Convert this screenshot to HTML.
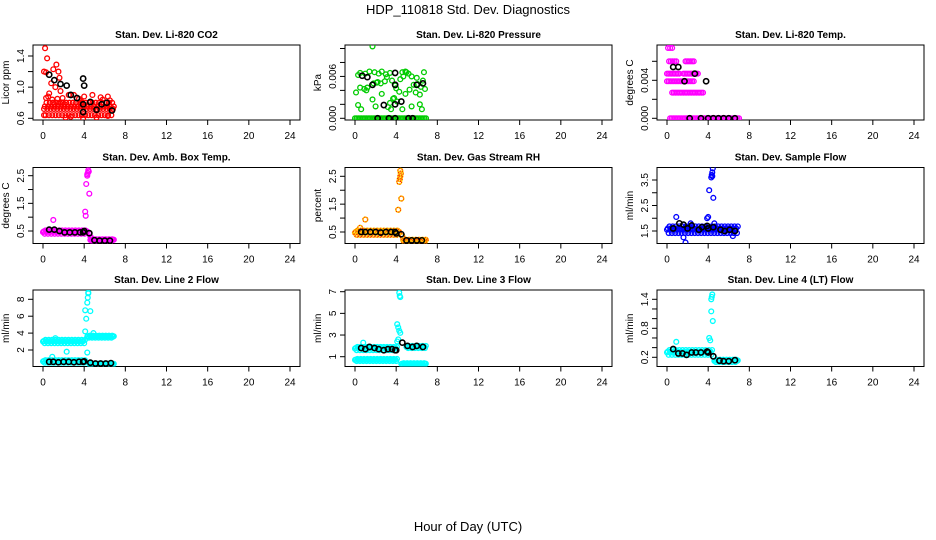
<!DOCTYPE html>
<html><head><meta charset="utf-8"><style>
body{margin:0;background:#fff}
svg{display:block;font-family:"Liberation Sans",sans-serif}
</style></head><body>
<svg id="chart" width="936" height="540" viewBox="0 0 936 540">
<text x="468" y="14" text-anchor="middle" font-size="13">HDP_110818  Std. Dev. Diagnostics</text>
<text x="468" y="531" text-anchor="middle" font-size="13">Hour of Day (UTC)</text>
</svg>
<script>
const xTicks=[0,4,8,12,16,20,24];
// Panel 1 CO2
const co2Pts=[[0.2,1.5],[0.4,1.37],[0.1,1.2],[0.3,1.19],[1.3,1.29],[1.5,1.2],[1.0,1.23],[1.6,1.12],[0.8,1.05],[1.2,1.0],[1.7,0.95],[0.6,0.92],[0.3,0.86],[0.5,0.88],[0.9,0.84],[1.4,0.85],[1.8,0.8],[2.1,0.78],[2.5,0.9],[3.0,0.9],[3.5,0.85],[4.0,0.88],[4.8,0.9],[5.6,0.87],[6.3,0.88],[6.5,0.83],[0.1,0.64],[2.2,0.61],[5.2,0.61],[6.3,0.63],[1.9,0.86],[3.7,0.82],[1.1,0.78],[5.8,0.84],[6.8,0.72],[2.7,0.62],[3.9,0.6]];
const co2Bands=[[0.1,6.8,0.64,0.8]];
const co2Black=[[0.6,1.16],[1.1,1.09],[1.7,1.04],[2.3,1.02],[3.9,1.11],[4.0,1.02],[2.7,0.9],[3.3,0.86],[4.6,0.81],[3.9,0.78],[6.2,0.8],[5.7,0.78],[5.2,0.71],[6.7,0.7],[3.9,0.68]];
// Panel 2 pressure (units 0.001 kPa)
const presPts=[[1.7,10.3],[0.3,6.2],[0.5,6.5],[1.0,6.4],[1.4,6.7],[1.9,6.6],[2.3,6.4],[2.6,6.7],[3.0,6.3],[3.4,6.5],[4.9,6.7],[5.2,6.4],[5.5,6.0],[6.0,5.8],[6.7,6.6],[6.6,5.4],[0.5,4.4],[0.9,4.2],[1.2,4.4],[1.8,5.0],[2.2,5.2],[2.5,5.0],[2.9,5.3],[3.6,5.4],[4.4,5.6],[5.7,4.8],[6.1,4.9],[6.4,4.5],[6.8,4.2],[0.1,3.7],[2.6,3.5],[4.0,4.3],[4.3,3.8],[4.9,3.5],[5.3,4.1],[5.9,3.7],[6.3,3.4],[1.7,2.7],[3.4,2.2],[3.7,2.8],[4.1,2.4],[0.3,1.9],[0.6,1.3],[2.0,1.7],[3.2,1.6],[3.5,1.3],[4.6,1.3],[5.5,1.7],[6.3,2.0],[6.5,1.3],[3.8,2.9],[1.1,4.0],[3.9,4.7],[4.7,6.0],[2.1,5.1],[4.6,6.6],[5.0,6.6],[3.1,5.9]];
const presBands=[[0,6.9,0,0]];
const presBlack=[[0.7,6.1],[1.2,5.9],[3.9,6.5],[1.7,4.8],[3.9,4.8],[6.0,4.8],[6.6,5.0],[4.5,2.4],[2.8,1.9],[3.9,2.0],[2.2,0],[3.3,0],[3.9,0],[5.2,0],[5.6,0]];
// Panel 3 temp (units 0.001 C)
const tempPts=[[0.1,7.4],[0.3,7.4],[0.5,7.4]];
const tempBands=[[0.2,0.9,6.0,6.0],[1.8,2.6,6.0,6.0],[0,1.2,4.7,4.7],[1.6,3.0,4.7,4.7],[0,2.6,3.9,3.9],[0.5,3.5,2.7,2.7],[0.3,7.0,0,0]];
const tempBlack=[[0.6,5.4],[1.1,5.4],[2.7,4.7],[1.7,3.9],[3.8,3.9],[2.2,0],[3.3,0],[4.0,0],[4.5,0],[5.0,0],[5.5,0],[6.0,0],[6.6,0]];
// Panel 4 amb box temp
const ambPts=[[1.0,0.9],[4.1,1.2],[4.15,1.05],[4.2,2.2],[4.3,2.5],[4.35,2.6],[4.4,2.7],[4.45,2.65],[4.3,2.55],[4.5,1.85],[4.5,0.4],[4.6,0.3],[4.7,0.25]];
const ambBands=[[0,4.2,0.4,0.52],[4.6,6.8,0.15,0.2]];
const ambBlack=[[0.6,0.55],[1.1,0.55],[1.6,0.5],[2.1,0.45],[2.6,0.45],[3.1,0.45],[3.6,0.45],[3.9,0.45],[4.0,0.5],[4.5,0.42],[5.0,0.17],[5.5,0.15],[6.0,0.15],[6.5,0.15]];
// Panel 5 RH
const rhPts=[[1.0,0.95],[4.2,1.3],[4.5,1.7],[4.3,2.3],[4.35,2.4],[4.4,2.5],[4.45,2.6],[4.4,2.7],[0.5,0.65],[4.6,0.35]];
const rhBands=[[0,4.2,0.4,0.55],[4.7,6.8,0.17,0.22]];
const rhBlack=[[0.6,0.5],[1.0,0.5],[1.5,0.5],[2.0,0.5],[2.5,0.48],[3.0,0.5],[3.5,0.5],[3.9,0.5],[4.0,0.45],[4.5,0.42],[5.0,0.2],[5.5,0.2],[6.0,0.2],[6.5,0.2]];
// Panel 6 sample flow
const sfPts=[[0.9,2.05],[1.8,1.05],[3.9,2.0],[4.0,2.05],[4.1,3.1],[4.3,3.6],[4.35,3.7],[4.4,3.8],[4.45,3.95],[4.4,3.65],[4.5,2.8],[1.6,1.25],[6.4,1.3],[4.6,1.8],[2.3,1.8]];
const sfBands=[[0,6.8,1.42,1.68]];
const sfBlack=[[0.6,1.6],[1.2,1.8],[1.6,1.75],[2.0,1.6],[2.4,1.72],[3.1,1.55],[3.4,1.65],[3.9,1.7],[4.0,1.6],[4.5,1.65],[5.2,1.55],[5.6,1.5],[6.1,1.55],[6.6,1.5]];
// Panel 7 line 2 flow
const l2Pts=[[4.1,4.2],[4.2,5.7],[4.1,6.7],[4.3,7.6],[4.35,8.2],[4.4,8.7],[4.4,8.8],[4.6,6.6],[4.3,1.7],[2.3,1.8],[0.9,1.2],[1.2,3.4],[4.9,4.0]];
const l2Bands=[[0,4.0,2.8,3.2],[4.3,6.8,3.45,3.7],[0,4.0,0.5,0.8],[4.5,6.8,0.3,0.4]];
const l2Black=[[0.6,0.6],[1.0,0.6],[1.5,0.55],[2.0,0.6],[2.5,0.6],[3.0,0.55],[3.5,0.6],[3.9,0.6],[4.0,0.65],[4.6,0.5],[5.1,0.4],[5.6,0.4],[6.1,0.4],[6.6,0.45]];
// Panel 8 line 3 flow
const l3Pts=[[4.1,4.0],[4.2,3.7],[4.3,3.4],[4.4,3.2],[4.2,2.6],[4.1,2.4],[4.3,6.9],[4.35,6.6],[4.4,6.5],[0.8,2.3]];
const l3Bands=[[0,4.0,1.6,1.9],[0,4.0,0.6,0.8],[4.5,6.8,0.25,0.4],[5.0,6.8,1.8,2.0]];
const l3Black=[[0.6,1.8],[1.0,1.7],[1.4,1.9],[1.9,1.8],[2.3,1.7],[2.8,1.6],[3.2,1.7],[3.6,1.7],[3.9,1.6],[4.0,1.6],[4.6,2.3],[5.1,2.0],[5.6,1.9],[6.0,2.0],[6.6,1.9]];
// Panel 9 line 4 flow
const l4Pts=[[4.1,0.6],[4.2,0.55],[4.3,1.15],[4.3,1.4],[4.35,1.45],[4.4,1.5],[4.45,0.95],[0.9,0.52]];
const l4Bands=[[0,4.3,0.25,0.35],[4.6,6.8,0.1,0.15]];
const l4Black=[[0.6,0.37],[1.1,0.28],[1.5,0.28],[1.9,0.25],[2.4,0.3],[2.8,0.3],[3.3,0.3],[3.9,0.32],[4.0,0.3],[4.5,0.22],[5.1,0.13],[5.5,0.12],[6.0,0.12],[6.6,0.14]];

const NS='http://www.w3.org/2000/svg';
const svg=document.getElementById('chart');
function mk(tag,attrs,parent){const e=document.createElementNS(NS,tag);for(const k in attrs)e.setAttribute(k,attrs[k]);(parent||svg).appendChild(e);return e;}

const colL=[33,345,657];
const rowT=[45,167.5,290], rowB=[120,243.5,366.5];
const panels=[
 {name:'co2',title:'Stan. Dev. Li-820 CO2',yl:'Licor ppm',c:0,r:0,v0:0.6,p0:118.3,v1:1.4,p1:56,ticks:[0.6,0.8,1.0,1.2,1.4],labs:['0.6','1.0','1.4'],labv:[0.6,1.0,1.4],col:'#ff0000',pts:co2Pts,bands:co2Bands,blk:co2Black},
 {name:'pressure',title:'Stan. Dev. Li-820 Pressure',yl:'kPa',c:1,r:0,v0:0,p0:118.3,v1:10,p1:48.5,ticks:[0,2,4,6,8,10],labs:['0.000','0.006'],labv:[0,6],col:'#00cc00',pts:presPts,bands:presBands,blk:presBlack},
 {name:'temp',title:'Stan. Dev. Li-820 Temp.',yl:'degrees C',c:2,r:0,v0:0,p0:118.3,v1:6,p1:61.3,ticks:[0,2,4,6],labs:['0.000','0.004'],labv:[0,4],col:'#ff00ff',pts:tempPts,bands:tempBands,blk:tempBlack},
 {name:'amb-temp',title:'Stan. Dev. Amb. Box Temp.',yl:'degrees C',c:0,r:1,v0:0.5,p0:231,v1:2.5,p1:175.7,ticks:[0.5,1,1.5,2,2.5],labs:['0.5','1.5','2.5'],labv:[0.5,1.5,2.5],col:'#ff00ff',pts:ambPts,bands:ambBands,blk:ambBlack},
 {name:'rh',title:'Stan. Dev. Gas Stream RH',yl:'percent',c:1,r:1,v0:0.5,p0:232,v1:2.5,p1:176.3,ticks:[0.5,1,1.5,2,2.5],labs:['0.5','1.5','2.5'],labv:[0.5,1.5,2.5],col:'#ff0000',fill:'#ffcc00',pts:rhPts,bands:rhBands,blk:rhBlack},
 {name:'sample-flow',title:'Stan. Dev. Sample Flow',yl:'ml/min',c:2,r:1,v0:1.5,p0:231,v1:3.5,p1:180,ticks:[1.5,2,2.5,3,3.5],labs:['1.5','2.5','3.5'],labv:[1.5,2.5,3.5],col:'#0000ff',pts:sfPts,bands:sfBands,blk:sfBlack},
 {name:'line2-flow',title:'Stan. Dev. Line 2 Flow',yl:'ml/min',c:0,r:2,v0:2,p0:350,v1:8,p1:299.3,ticks:[2,4,6,8],labs:['2','4','6','8'],labv:[2,4,6,8],col:'#00ffff',pts:l2Pts,bands:l2Bands,blk:l2Black},
 {name:'line3-flow',title:'Stan. Dev. Line 3 Flow',yl:'ml/min',c:1,r:2,v0:1,p0:356.7,v1:7,p1:291.7,ticks:[1,3,5,7],labs:['1','3','5','7'],labv:[1,3,5,7],col:'#00ffff',pts:l3Pts,bands:l3Bands,blk:l3Black},
 {name:'line4-flow',title:'Stan. Dev. Line 4 (LT) Flow',yl:'ml/min',c:2,r:2,v0:0.2,p0:357.3,v1:1.4,p1:299.3,ticks:[0.2,0.4,0.6,0.8,1.0,1.2,1.4],labs:['0.2','0.8','1.4'],labv:[0.2,0.8,1.4],col:'#00ffff',pts:l4Pts,bands:l4Bands,blk:l4Black}
];

panels.forEach(P=>{
 const L=colL[P.c], T=rowT[P.r], B=rowB[P.r];
 const xs=v=>L+10+v*(247/24);
 const ys=v=>P.p0+(v-P.v0)*(P.p1-P.p0)/(P.v1-P.v0);
 const g=mk('g',{});
 
 
 const clip=mk('clipPath',{id:'clip-'+P.name},g);
 mk('rect',{x:L,y:T,width:267,height:B-T},clip);
 const t=mk('text',{x:L+133.5,y:T-7,'text-anchor':'middle','font-size':'10','font-weight':'bold'},g);
 t.textContent=P.title;
 
 
 const yl=mk('text',{transform:`translate(${L-24},${(T+B)/2}) rotate(-90)`,'text-anchor':'middle','font-size':'10'},g);
 yl.textContent=P.yl;
 
 
 const box=mk('rect',{x:L,y:T,width:267,height:B-T,fill:'none',stroke:'#000','stroke-width':1},g);
 
 
 xTicks.forEach(v=>{
  const x=xs(v);
  mk('line',{x1:x,x2:x,y1:B,y2:B+5,stroke:'#000'},g);
  const lt=mk('text',{x:x,y:B+19,'text-anchor':'middle','font-size':'10'},g);
  lt.textContent=v;
  
  
 });
 P.ticks.forEach(v=>{const y=ys(v);mk('line',{x1:L-5,x2:L,y1:y,y2:y,stroke:'#000'},g);});
 P.labs.forEach((s,i)=>{
  const y=ys(P.labv[i]);
  const lt=mk('text',{transform:`translate(${L-9},${y}) rotate(-90)`,'text-anchor':'middle','font-size':'10'},g);
  lt.textContent=s;
  
  
 });
 const pg=mk('g',{'clip-path':`url(#clip-${P.name})`},g);
 
 
 const dot=(x,y,col)=>{
  if(P.fill) mk('circle',{cx:xs(x),cy:ys(y),r:2.4,fill:'none',stroke:P.fill,'stroke-width':1.5},pg);
  const c=mk('circle',{cx:xs(x),cy:ys(y),r:2.4,fill:'none',stroke:col,'stroke-width':P.fill?1:1.3,'stroke-dasharray':P.fill?'1 1.5':'none'},pg);
  
  
 };
 P.bands.forEach(b=>{
  const n=Math.max(1,Math.round((b[1]-b[0])/0.16));
  for(let i=0;i<=n;i++){
   const x=b[0]+(b[1]-b[0])*i/n;
   if(b[3]!==b[2]){
     dot(x,(i%2)?b[2]:(b[2]+b[3])/2,P.col);
     dot(x+0.08,(i%2)?b[3]:(b[2]*0.3+b[3]*0.7),P.col);
   } else dot(x,b[2],P.col);
  }
 });
 P.pts.forEach(p=>dot(p[0],p[1],P.col));
 P.blk.forEach(p=>{
  const c=mk('circle',{cx:xs(p[0]),cy:ys(p[1]),r:2.6,fill:'none',stroke:'#000','stroke-width':1.6},pg);
  
  
 });
});
</script>
</body></html>
